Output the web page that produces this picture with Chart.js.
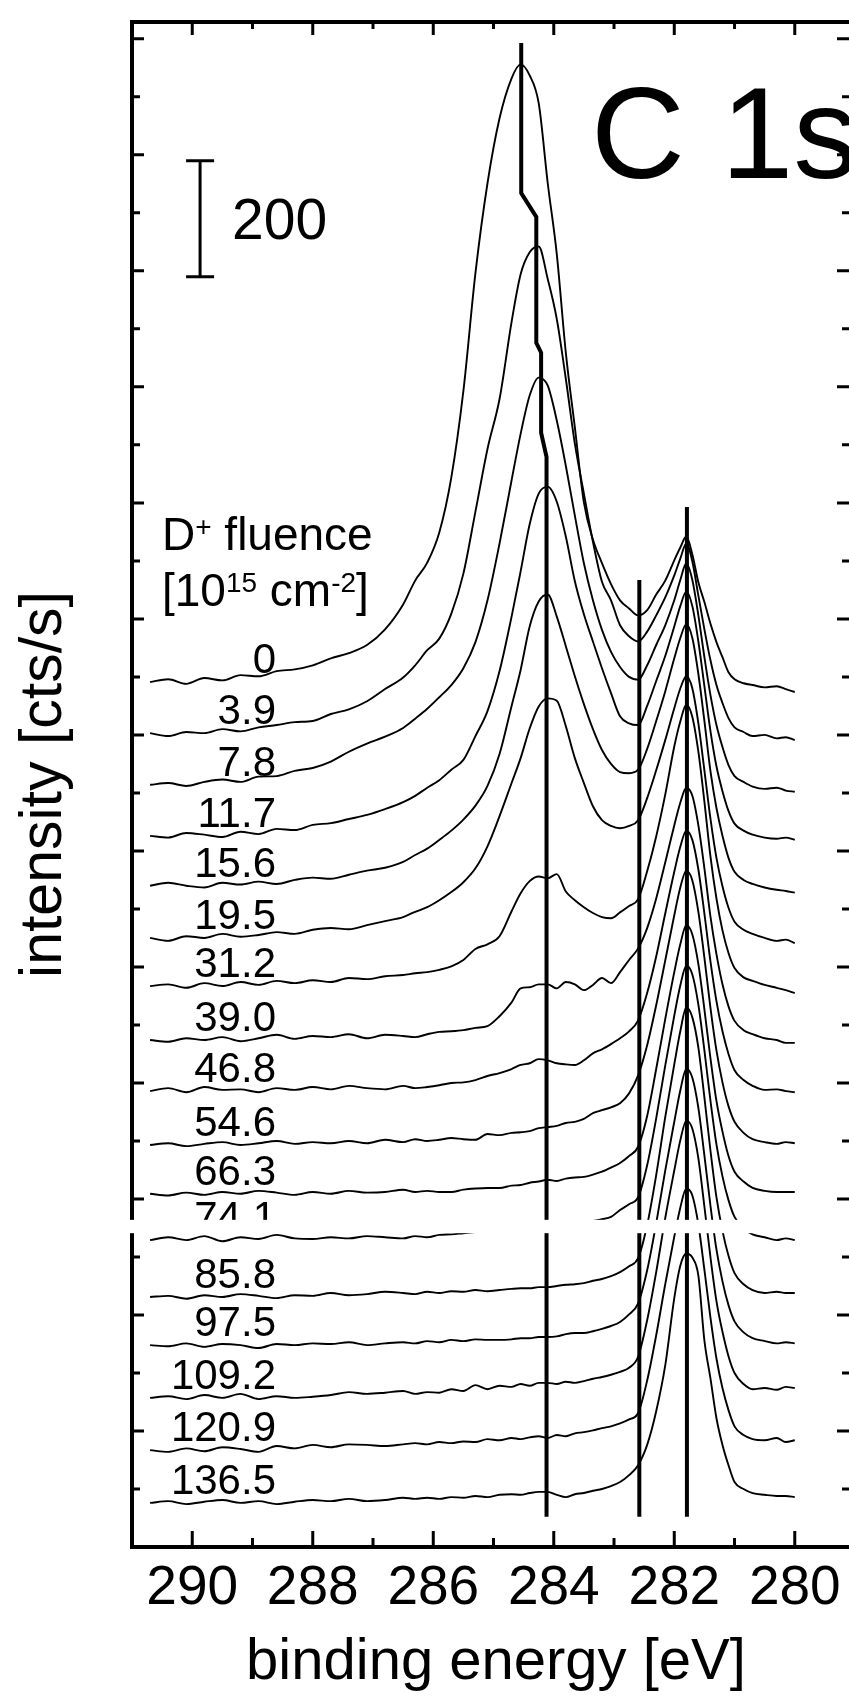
<!DOCTYPE html>
<html>
<head>
<meta charset="utf-8">
<script src="https://cdn.jsdelivr.net/npm/chart.js@4.4.0/dist/chart.umd.min.js"></script>
<style>
  html, body { margin: 0; padding: 0; background: #fff; }
  #wrap { width: 849px; height: 1702px; }
</style>
</head>
<body>
<div id="wrap"><canvas id="canvas" width="849" height="1702"></canvas></div>
<script>
// binding energy grid [eV], shared by all spectra
var energy = [290.7, 290.4, 290.1, 289.8, 289.5, 289.2, 288.9, 288.6, 288.3, 288.0,
  287.7, 287.4, 287.1, 286.8, 286.5, 286.3, 286.1, 285.9, 285.7, 285.5,
  285.3, 285.1, 284.9, 284.7, 284.55, 284.4, 284.25, 284.1, 283.95, 283.8,
  283.65, 283.5, 283.35, 283.2, 283.05, 282.9, 282.75, 282.6, 282.45, 282.3,
  282.15, 282.0, 281.9, 281.8, 281.7, 281.6, 281.5, 281.4, 281.3, 281.2,
  281.1, 281.0, 280.85, 280.7, 280.5, 280.3, 280.15, 280.0];

// D+ fluence of each spectrum [10^15 cm^-2]
var fluence = ['0', '3.9', '7.8', '11.7', '15.6', '19.5', '31.2', '39.0', '46.8',
  '54.6', '66.3', '74.1', '85.8', '97.5', '109.2', '120.9', '136.5'];

// vertical offset of each spectrum in the stack [cts/s]
var offsets = [1491, 1403, 1314, 1226, 1140, 1050, 967, 874, 786,
  693, 609, 529, 431, 348, 257, 167, 76];

// intensities above the offset [cts/s]
var s0 = [0, 5, -3, 7, 3, 12, 10, 19, 22, 29, 41, 50, 64, 91, 134, 175, 206, 258, 353, 502,
  705, 860, 972, 1041, 1065, 1046, 998, 860, 738, 568, 439, 310, 246, 205, 169, 141, 127, 115, 124, 151,
  175, 210, 232, 251, 220, 172, 138, 101, 69, 43, 17, 5, -2, -5, -9, -7, -12, -17];
var s3_9 = [0, -5, 2, 0, 7, 3, 10, 14, 19, 21, 33, 41, 55, 76, 96, 117, 143, 163, 206, 275,
  382, 490, 576, 709, 791, 829, 839, 783, 714, 611, 499, 413, 330, 261, 229, 186, 167, 158, 175, 203,
  234, 272, 301, 327, 296, 237, 179, 126, 83, 52, 26, 10, 2, -5, -3, -9, -7, -12];
var s7_8 = [0, 3, -2, 5, 9, 5, 14, 15, 24, 29, 40, 57, 71, 83, 98, 114, 131, 151, 172, 201,
  246, 318, 416, 525, 605, 671, 702, 688, 628, 550, 464, 382, 318, 267, 229, 203, 186, 181, 206, 241,
  275, 318, 353, 382, 353, 292, 220, 155, 103, 65, 34, 15, 5, -3, -7, -5, -10, -12];
var s11_7 = [0, -3, 5, 2, -2, 7, 3, 12, 10, 19, 22, 29, 36, 46, 58, 69, 83, 96, 114, 131,
  172, 215, 284, 378, 456, 537, 590, 602, 576, 516, 439, 382, 335, 289, 246, 206, 194, 191, 224, 267,
  310, 361, 396, 421, 396, 335, 258, 181, 120, 77, 43, 21, 9, 2, -3, -5, -3, -7];
var s15_6 = [0, 5, 0, -3, 5, 2, 7, 3, 10, 14, 12, 19, 26, 31, 41, 53, 64, 79, 95, 114,
  138, 172, 227, 310, 372, 447, 490, 502, 464, 413, 361, 313, 270, 234, 210, 196, 194, 200, 236, 284,
  335, 392, 427, 451, 427, 365, 284, 198, 134, 86, 48, 24, 10, 3, -3, -7, -9, -12];
var s19_5 = [0, -5, 3, 0, 7, 2, 5, 10, 7, 14, 17, 15, 22, 29, 36, 45, 53, 65, 79, 96,
  120, 158, 210, 267, 310, 361, 399, 413, 409, 365, 310, 267, 227, 203, 193, 189, 193, 203, 241, 289,
  341, 396, 430, 451, 430, 370, 289, 206, 138, 89, 52, 28, 14, 7, 0, -5, -3, -9];
var s31_2 = [0, 3, -3, 5, 0, 7, 2, 9, 5, 10, 7, 14, 12, 17, 19, 22, 24, 28, 34, 45,
  64, 72, 86, 129, 160, 181, 189, 186, 193, 163, 148, 136, 126, 119, 117, 127, 138, 150, 198, 258,
  330, 413, 456, 485, 464, 404, 318, 224, 151, 96, 57, 31, 15, 9, 2, -3, -7, -12];
var s39_0 = [0, -3, 3, 0, 5, -2, 3, 9, 2, 7, 5, 10, 3, 9, 7, 5, 10, 14, 15, 17,
  21, 24, 41, 65, 89, 91, 96, 96, 89, 100, 96, 86, 95, 107, 98, 117, 138, 158, 193, 244,
  306, 370, 409, 435, 421, 370, 296, 213, 148, 96, 58, 33, 17, 10, 3, 0, -5, -5];
var s46_8 = [0, 5, -2, 7, 2, 3, -2, 5, 2, 7, 3, 9, 5, 3, 9, 5, 7, 10, 14, 15,
  19, 26, 31, 38, 45, 48, 55, 53, 48, 46, 45, 53, 65, 72, 81, 91, 103, 122, 169, 232,
  306, 378, 421, 449, 433, 382, 306, 224, 155, 103, 64, 36, 19, 9, 2, 3, 0, -2];
var s54_6 = [0, 3, -2, 2, 5, 0, 3, 7, 2, 5, 3, 7, 3, 9, 5, 10, 7, 9, 12, 10,
  9, 19, 17, 21, 22, 24, 29, 31, 33, 38, 40, 45, 55, 60, 65, 72, 89, 120, 172, 241,
  318, 396, 444, 473, 456, 402, 323, 237, 163, 108, 67, 40, 21, 10, 5, 2, 5, 3];
var s66_3 = [0, -3, 2, -2, 3, 0, 5, 2, -2, 3, 0, 5, 2, 3, 7, 3, 5, 3, 3, 7,
  9, 10, 10, 14, 15, 19, 21, 24, 22, 26, 28, 29, 33, 38, 45, 53, 65, 81, 134, 215,
  301, 382, 430, 463, 447, 396, 318, 234, 160, 107, 65, 38, 21, 10, 5, 3, 3, 3];
var s74_1 = [0, 5, 0, 7, -2, 5, 2, 9, 3, 2, 5, 3, 7, 5, 3, 7, 5, 9, 10, 12,
  14, 15, 15, 17, 19, 19, 21, 22, 22, 24, 28, 29, 33, 36, 40, 52, 62, 74, 129, 210,
  301, 387, 439, 473, 458, 406, 327, 241, 165, 110, 69, 40, 21, 10, 5, 0, 3, 0];
var s85_8 = [0, 2, -3, 3, 0, 5, 2, -2, 3, 2, 7, 3, 5, 9, 7, 5, 9, 7, 10, 9,
  12, 10, 12, 14, 15, 15, 17, 17, 19, 21, 22, 24, 28, 31, 36, 43, 53, 67, 124, 210,
  310, 401, 458, 499, 482, 430, 344, 253, 172, 114, 71, 41, 22, 12, 7, 9, 7, 7];
var s97_5 = [0, -2, 3, -3, 2, 0, -5, 2, 0, 3, 2, 5, 0, 3, 5, 3, 7, 5, 9, 7,
  10, 9, 9, 10, 12, 12, 14, 14, 15, 19, 21, 21, 24, 28, 33, 40, 53, 72, 129, 210,
  301, 385, 439, 476, 461, 409, 327, 241, 165, 110, 69, 41, 22, 12, 7, 3, 5, 3];
var s109_2 = [0, 3, -2, 5, 0, 7, -2, 3, 0, 2, 5, 10, 7, 9, 12, 7, 10, 9, 15, 12,
  22, 15, 21, 19, 24, 21, 26, 26, 24, 28, 26, 29, 33, 36, 40, 45, 52, 71, 134, 217,
  310, 392, 444, 478, 464, 413, 330, 243, 167, 114, 72, 43, 24, 15, 17, 14, 19, 17];
var s120_9 = [0, -3, 3, -2, 5, 2, -3, 7, 3, 9, 5, 10, 9, 7, 10, 12, 10, 14, 12, 15,
  14, 19, 17, 21, 19, 22, 24, 21, 26, 24, 29, 31, 34, 38, 41, 46, 53, 64, 120, 198,
  286, 368, 418, 451, 439, 389, 311, 229, 158, 107, 69, 41, 26, 19, 17, 21, 14, 17];
var s136_5 = [0, 3, -2, 2, 5, 0, 3, -2, 2, 5, 3, 7, 3, 5, 9, 7, 9, 7, 10, 9,
  12, 10, 14, 15, 14, 17, 19, 19, 14, 10, 15, 17, 21, 24, 29, 36, 48, 65, 100, 158,
  237, 353, 409, 430, 423, 392, 280, 215, 146, 100, 65, 36, 24, 17, 14, 12, 12, 10];

var spectra = [s0, s3_9, s7_8, s11_7, s15_6, s19_5, s31_2, s39_0, s46_8,
  s54_6, s66_3, s74_1, s85_8, s97_5, s109_2, s120_9, s136_5];

// guide lines: shift of the C-C peak, and the two fixed positions
var peakTrackE = [284.54, 284.54, 284.29, 284.29, 284.21, 284.21, 284.12, 284.12];
var peakTrackI = [2593, 2334, 2293, 2076, 2059, 1921, 1879, 52];
var line2826E = [282.58, 282.58];
var line2826I = [1667, 52];
var line2818E = [281.79, 281.79];
var line2818I = [1793, 52];

// axes
var xTicks = [290, 289, 288, 287, 286, 285, 284, 283, 282, 281, 280];
var xTickLabels = ['290', '288', '286', '284', '282', '280'];
var yTicks = [];
for (var t = 100; t <= 2600; t += 100) yTicks.push(t);

// scale bar: 200 cts/s
var scaleBarE = 289.87;
var scaleBarI = [2190, 2390];

// band lost in the scan of the original page [cts/s]
var scanGap = [541, 564];

var FONT = '"Liberation Sans", Arial, Helvetica, sans-serif';

function pts(xs, ys) {
  return xs.map(function (x, i) { return { x: x, y: ys[i] }; });
}

var datasets = spectra.map(function (s, i) {
  return {
    label: fluence[i],
    data: energy.map(function (e, j) { return { x: e, y: offsets[i] + s[j] }; }),
    borderColor: '#000',
    borderWidth: 1.9,
    pointRadius: 0,
    fill: false,
    cubicInterpolationMode: 'monotone'
  };
});

[[peakTrackE, peakTrackI, 4], [line2826E, line2826I, 4], [line2818E, line2818I, 4]].forEach(function (m) {
  datasets.push({
    data: pts(m[0], m[1]),
    borderColor: '#000',
    borderWidth: m[2],
    pointRadius: 0,
    fill: false,
    tension: 0
  });
});

var deco = {
  id: 'deco',
  afterDatasetsDraw: function (chart) {
    var ctx = chart.ctx, a = chart.chartArea;
    var xs = chart.scales.x, ys = chart.scales.y;
    ctx.save();
    ctx.strokeStyle = '#000';
    ctx.fillStyle = '#000';
    ctx.lineCap = 'butt';

    // frame (right side lies outside the picture)
    ctx.lineWidth = 4;
    ctx.beginPath();
    ctx.moveTo(a.right + 4, a.top);
    ctx.lineTo(a.left, a.top);
    ctx.lineTo(a.left, a.bottom);
    ctx.lineTo(a.right + 4, a.bottom);
    ctx.stroke();

    // inward ticks
    ctx.lineWidth = 3;
    xTicks.forEach(function (e) {
      var px = xs.getPixelForValue(e), major = e % 2 === 0;
      ctx.beginPath();
      ctx.moveTo(px, a.bottom);
      ctx.lineTo(px, a.bottom - (major ? 16 : 9));
      ctx.moveTo(px, a.top);
      ctx.lineTo(px, a.top + (major ? 13 : 7));
      ctx.stroke();
    });
    yTicks.forEach(function (v) {
      var py = ys.getPixelForValue(v), major = v % 200 === 0;
      ctx.beginPath();
      ctx.moveTo(a.left, py);
      ctx.lineTo(a.left + (major ? 12 : 8), py);
      ctx.moveTo(a.right, py);
      ctx.lineTo(a.right - (major ? 12 : 7), py);
      ctx.stroke();
    });

    // tick labels and axis titles
    ctx.textAlign = 'center';
    ctx.textBaseline = 'alphabetic';
    ctx.font = '55px ' + FONT;
    xTickLabels.forEach(function (l) {
      ctx.fillText(l, xs.getPixelForValue(parseFloat(l)), a.bottom + 57);
    });
    ctx.font = '58px ' + FONT;
    ctx.fillText('binding energy [eV]', 496, a.bottom + 132);
    ctx.save();
    ctx.translate(45, (a.top + a.bottom) / 2);
    ctx.rotate(-Math.PI / 2);
    ctx.textBaseline = 'middle';
    ctx.font = '59px ' + FONT;
    ctx.fillText('intensity [cts/s]', 0, 0);
    ctx.restore();

    // fluence labels
    ctx.textAlign = 'right';
    ctx.font = '42px ' + FONT;
    var lx = xs.getPixelForValue(288.61);
    fluence.forEach(function (f, i) {
      ctx.fillText(f, lx, ys.getPixelForValue(offsets[i]) - 9);
    });

    // legend heading
    ctx.textAlign = 'left';
    function run(parts, x, y) {
      parts.forEach(function (p) {
        ctx.font = (p[1] ? '28px ' : '46px ') + FONT;
        ctx.fillText(p[0], x, y - (p[1] ? 14 : 0));
        x += ctx.measureText(p[0]).width;
      });
    }
    run([['D', false], ['+', true], [' fluence', false]], 162, 550);
    run([['[10', false], ['15', true], [' cm', false], ['-2', true], [']', false]], 162, 606);

    // C 1s
    ctx.font = '130px ' + FONT;
    ctx.fillText('C 1s', 591, 178);

    // scale bar
    var bx = xs.getPixelForValue(scaleBarE);
    var y1 = ys.getPixelForValue(scaleBarI[0]), y2 = ys.getPixelForValue(scaleBarI[1]);
    ctx.lineWidth = 3;
    ctx.beginPath();
    ctx.moveTo(bx, y1); ctx.lineTo(bx, y2);
    ctx.moveTo(bx - 14, y1); ctx.lineTo(bx + 14, y1);
    ctx.moveTo(bx - 14, y2); ctx.lineTo(bx + 14, y2);
    ctx.stroke();
    ctx.font = '57px ' + FONT;
    ctx.fillText('200', bx + 32, (y1 + y2) / 2 + 20);

    // white band of the scan gap
    var g1 = ys.getPixelForValue(scanGap[1]), g2 = ys.getPixelForValue(scanGap[0]);
    ctx.fillStyle = '#fff';
    ctx.fillRect(a.left - 8, g1, a.right - a.left + 16, g2 - g1);
    ctx.restore();
  }
};

var ctx = document.getElementById('canvas');
var chart = new Chart(ctx, {
  type: 'line',
  data: { datasets: datasets },
  options: {
    responsive: false,
    animation: false,
    devicePixelRatio: 1,
    layout: { padding: { left: 132, right: 0, top: 22, bottom: 155 } },
    plugins: { legend: { display: false }, tooltip: { enabled: false } },
    scales: {
      x: { type: 'linear', reverse: true, min: 279.1, max: 291, display: false },
      y: { type: 'linear', min: 0, max: 2629, display: false }
    }
  },
  plugins: [deco]
});
</script>
</body>
</html>
